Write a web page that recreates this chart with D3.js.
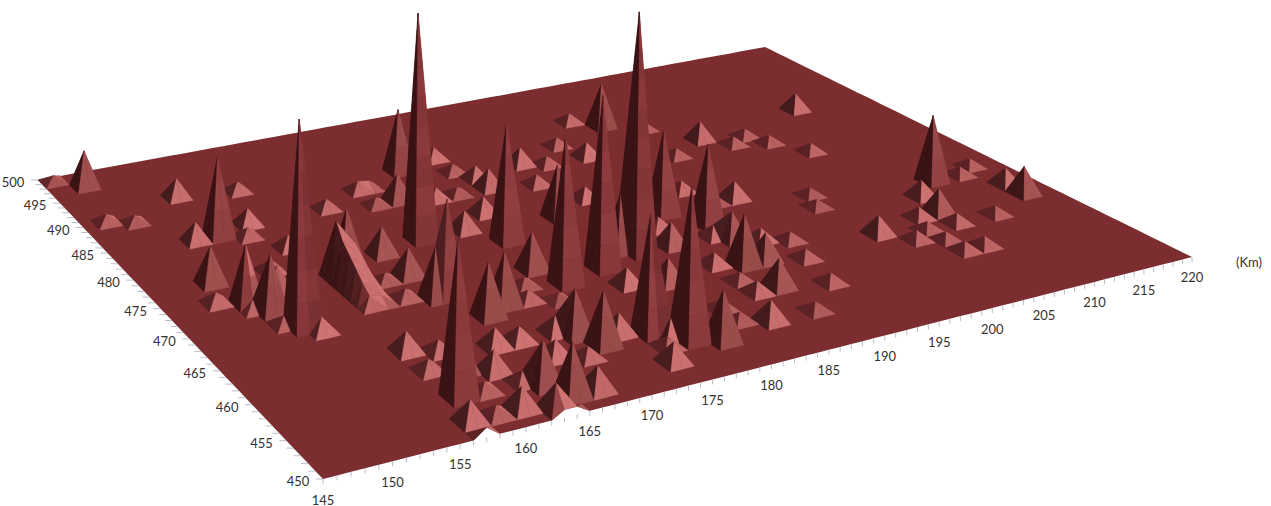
<!DOCTYPE html>
<html>
<head>
<meta charset="utf-8">
<script src="https://cdn.jsdelivr.net/npm/d3@7"></script>
<style>
  body { margin: 0; background: #fff; }
  text { font-family: Lato, sans-serif; font-size: 13px; fill: #333; }
</style>
</head>
<body>
<div id="chart"></div>
<script>
const xTicks = [145,150,155,160,165,170,175,180,185,190,195,200,205,210,215,220];
const yTicks = [450,455,460,465,470,475,480,485,490,495,500];

// peak nodes in km, one value each, everything else on the grid is 0
const peakX = [146,148,154,147,149,152,154,159,157,156,150,151,149,151,152,155,154,152,153,154,
  159,159,159,159,159,159,161,164,168,169,170,168,164,158,162,164,168,173,177,177,
  173,175,178,175,172,165,164,162,178,174,183,185,182,192,188,194,189,184,197,174,
  180,178,181,182,188,190,177,179,175,171,170,173,178,174,176,175,169,167,169,164,
  165,167,157,157,159,161,163,163,164,163,160,162,164,158,166,168,173,171,170,172,
  166,200,196,202,204,205,212,207,195,193,201,200,201,203,212,209,208,217,215,217,
  217,212,206,208,205,205,207,205,194,193,192,188,184,182,186,188,186,188,190,192,
  190,189,186,182,192,186,185,181,158,160,158,160,
  160,160,160,160,160];
const peakY = [499,497,492,490,489,484,484,491,485,483,477,473,474,472,471,477,474,469,468,467,
  474,473,472,471,470,469,476,485,487,487,484,484,476,480,472,472,477,489,490,487,
  483,483,485,479,477,468,468,469,483,474,486,485,482,492,488,490,485,478,488,466,
  476,467,469,468,473,470,455,454,457,457,459,458,464,453,456,455,460,457,456,454,
  452,452,452,450,452,452,451,450,450,455,455,457,460,455,464,465,469,467,465,464,
  460,484,482,482,483,481,486,478,473,473,471,469,463,461,469,467,464,470,469,466,
  464,462,464,462,462,460,458,458,465,462,458,455,455,456,459,459,461,463,467,466,
  463,468,464,458,476,471,468,463,462,461,459,458,
  473,472,471,470,469];
const peakValue = [9,48,25,11,10,24,99,13,21,12,45,70,13,12,69,14,30,11,239,17,
  68,50,40,30,20,12,65,13,13,11,35,10,34,16,10,34,282,83,16,11,
  15,10,18,22,25,114,61,11,26,146,23,12,13,13,12,60,20,16,11,178,
  67,209,70,296,107,101,174,59,136,62,54,24,21,23,23,12,20,20,13,50,
  59,27,24,10,11,25,29,8,8,13,11,25,22,170,63,63,46,10,12,9,
  17,26,11,11,11,11,24,12,23,10,10,10,24,12,87,22,32,11,11,22,
  36,11,14,13,11,11,12,12,11,12,12,10,25,10,14,35,11,63,35,15,
  34,15,15,11,14,15,30,30,23,14,13,35,
  46,38,28,18,10];

let width = 1271, height = 506;

let svg = d3.select('#chart')
  .append('svg')
  .attr('width', width)
  .attr('height', height);

let xscale = d3.scaleLinear().domain([145, 220]).range([0, 1]);
let yscale = d3.scaleLinear().domain([450, 500]).range([0, 1]);

// perspective of the floor plane, from its four corners on the page
// tall marks lean a little away from the middle of the picture
function project(x, y, z) {
  let u = xscale(x), v = yscale(y);
  let w = 1 + 0.2187 * u + 0.3238 * v;
  let px = (1129.7 * u - 272.7 * v + 323) / w;
  return [
    px + (px - 600) * 6e-5 * z / w,
    (-165.8 * u - 240.7 * v + 479 - z) / w
  ];
}

let nodes = new Map();
peakX.forEach((x, i) => nodes.set(x + '_' + peakY[i], peakValue[i]));
const zAt = (x, y) => nodes.get(x + '_' + y) || 0;

// shade -> colour for the slopes, the floor has its own flat colour
const floorColour = '#732023';
const light = [0.55, -0.5, 0.67];
const zUnit = 0.04;
let colour = d3.scaleLinear()
  .domain([-0.2, 0.1, 0.42, 0.55, 0.65, 0.70, 0.80, 0.835])
  .range(['#2e0506', '#3a0e10', '#521618', '#7f2a2d', '#8e3638', '#93403f', '#a24a4a', '#cc6b6b'])
  .clamp(true);

function shade(a, b, c) {
  let ux = b[0] - a[0], uy = b[1] - a[1], uz = (b[2] - a[2]) * zUnit;
  let vx = c[0] - a[0], vy = c[1] - a[1], vz = (c[2] - a[2]) * zUnit;
  let nx = uy * vz - uz * vy, ny = uz * vx - ux * vz, nz = ux * vy - uy * vx;
  if (nz < 0) { nx = -nx; ny = -ny; nz = -nz; }
  let len = Math.hypot(nx, ny, nz) || 1;
  return (nx * light[0] + ny * light[1] + nz * light[2]) / len;
}

// cut a triangle to the part between two heights
function clipZ(pts, lo, hi) {
  function cut(list, keep, level) {
    let out = [];
    list.forEach((p, i) => {
      let q = list[(i + 1) % list.length];
      if (keep(p)) out.push(p);
      if (keep(p) !== keep(q)) {
        let t = (level - p[2]) / (q[2] - p[2]);
        out.push([p[0] + t * (q[0] - p[0]), p[1] + t * (q[1] - p[1]), level]);
      }
    });
    return out;
  }
  let res = cut(pts, p => p[2] >= lo, lo);
  if (res.length) res = cut(res, p => p[2] <= hi, hi);
  return res;
}

let surface = svg.append('g').attr('opacity', 0.94);
const line = d3.line().x(d => project(d[0], d[1], d[2])[0]).y(d => project(d[0], d[1], d[2])[1]);

// floor outline follows the edge nodes, so bumps on the edge show white below
let outline = [];
d3.range(145, 221).forEach(x => outline.push([x, 450, zAt(x, 450)]));
d3.range(451, 501).forEach(y => outline.push([220, y, zAt(220, y)]));
d3.range(219, 144, -1).forEach(x => outline.push([x, 500, zAt(x, 500)]));
d3.range(499, 450, -1).forEach(y => outline.push([145, y, zAt(145, y)]));

surface.append('path')
  .attr('d', line(outline) + 'Z')
  .attr('fill', floorColour);

const bandStep = 36;
const camera = [110, 400];
const far = t => {
  let cx = (t[0][0] + t[1][0] + t[2][0]) / 3, cy = (t[0][1] + t[1][1] + t[2][1]) / 3;
  return Math.hypot(cx - camera[0], cy - camera[1]);
};

function drawTriangle(t) {
  let s = shade(t[0], t[1], t[2]);
  let top = d3.max(t, d => d[2]);
  d3.range(0, Math.ceil(top / bandStep)).forEach(k => {
    let part = clipZ(t, k * bandStep, (k + 1) * bandStep);
    if (part.length < 3) return;
    let c = colour(s + (top > bandStep ? (k % 2 ? 0.018 : -0.012) : 0));
    surface.append('path')
      .attr('d', line(part) + 'Z')
      .attr('fill', c)
      .attr('stroke', c)
      .attr('stroke-width', 0.3);
  });
}

// back to front: the viewer is on the low x, low y side of every cell
d3.range(499, 449, -1).forEach(y => {
  d3.range(219, 144, -1).forEach(x => {
    let a = [x, y, zAt(x, y)], b = [x + 1, y, zAt(x + 1, y)];
    let c = [x + 1, y + 1, zAt(x + 1, y + 1)], d = [x, y + 1, zAt(x, y + 1)];
    if (a[2] + b[2] + c[2] + d[2] === 0) return;
    let tris;
    if (Math.max(a[2], c[2]) >= Math.max(b[2], d[2])) tris = [[a, b, c], [a, c, d]];
    else tris = [[a, b, d], [b, c, d]];
    tris.sort((p, q) => far(q) - far(p)).forEach(drawTriangle);
  });
});

// axes, one tick per km and a label every 5
let axis = svg.append('g');
d3.range(145, 221).forEach(x => {
  let p = project(x, 450, 0);
  axis.append('line').attr('x1', p[0]).attr('x2', p[0]).attr('y1', p[1]).attr('y2', p[1] + 5)
    .attr('stroke', '#aab').attr('stroke-width', 0.8);
});
d3.range(450, 501).forEach(y => {
  let p = project(145, y, 0);
  axis.append('line').attr('x1', p[0] - 7).attr('x2', p[0]).attr('y1', p[1]).attr('y2', p[1])
    .attr('stroke', '#aab').attr('stroke-width', 0.8);
});

axis.selectAll('.xlab').data(xTicks).enter().append('text')
  .attr('x', d => project(d, 450, 0)[0])
  .attr('y', d => project(d, 450, 0)[1] + 25.5)
  .attr('text-anchor', 'middle')
  .text(d => d);

axis.selectAll('.ylab').data(yTicks).enter().append('text')
  .attr('x', d => project(145, d, 0)[0] - 25)
  .attr('y', d => project(145, d, 0)[1] + 7)
  .attr('text-anchor', 'middle')
  .text(d => d);

svg.append('text')
  .attr('x', 1249)
  .attr('y', 267)
  .attr('text-anchor', 'middle')
  .text('(Km)');
</script>
</body>
</html>
